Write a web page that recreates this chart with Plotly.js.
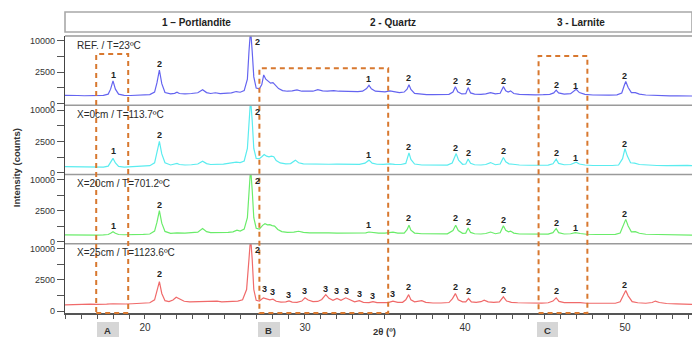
<!DOCTYPE html>
<html>
<head>
<meta charset="utf-8">
<script src="https://cdn.plot.ly/plotly-3.0.1.min.js"></script>
<style>html,body{margin:0;padding:0;background:#fff;}#chart{width:692px;height:337px;}</style>
</head>
<body>
<div id="chart"></div>
<script>
// ---- data: [2theta (deg), intensity (counts)] ----
const panelNames = ["REF. / T=23ºC", "X=0cm / T=113.7ºC", "X=20cm / T=701.2ºC", "X=25cm / T=1123.6ºC"];
const phaseNames = ["1 – Portlandite", "2 - Quartz", "3 - Larnite"];
const zoneNames = ["A", "B", "C"];
const zoneX0 = [16.95, 27.15, 44.6];
const zoneX1 = [18.95, 35.2, 47.65];
const zoneTop = [0.935, 0.884, 0.928]; // top of zone boxes (fraction of plot height)

const refPoints = [[15.0,165],[15.4,150],[15.8,160],[16.2,150],[16.6,158],[17.0,155],[17.4,165],[17.7,220],[17.85,520],[18.0,1300],[18.15,520],[18.35,220],[18.7,165],[19.1,160],[19.5,170],[19.9,180],[20.3,200],[20.6,330],[20.75,1100],[20.9,2860],[21.05,1000],[21.25,300],[21.6,230],[21.85,260],[22.0,320],[22.15,250],[22.5,230],[22.9,250],[23.3,290],[23.6,480],[23.85,300],[24.1,250],[24.4,290],[24.7,240],[25.1,260],[25.4,280],[25.7,360],[25.95,320],[26.2,420],[26.4,1500],[26.5,7000],[26.6,14000],[26.7,7000],[26.8,1800],[26.95,600],[27.15,540],[27.3,900],[27.42,2080],[27.55,1500],[27.7,1300],[27.85,1050],[28.0,1100],[28.15,800],[28.35,560],[28.6,420],[28.9,380],[29.2,400],[29.5,470],[29.8,380],[30.1,360],[30.5,380],[30.8,480],[31.1,400],[31.4,390],[31.8,420],[32.1,380],[32.5,360],[32.9,380],[33.3,350],[33.6,380],[33.85,560],[34.0,840],[34.15,550],[34.4,380],[34.7,350],[35.0,340],[35.3,400],[35.6,330],[35.9,300],[36.2,330],[36.38,520],[36.5,900],[36.62,500],[36.85,260],[37.2,220],[37.6,200],[38.0,195],[38.5,200],[39.0,210],[39.25,330],[39.4,720],[39.55,350],[39.8,230],[40.05,240],[40.2,640],[40.35,280],[40.6,220],[41.0,210],[41.3,230],[41.6,300],[41.9,230],[42.2,260],[42.4,720],[42.55,400],[42.7,330],[42.85,400],[43.05,250],[43.4,210],[43.9,190],[44.4,190],[44.9,195],[45.3,210],[45.55,280],[45.7,445],[45.85,280],[46.2,220],[46.6,240],[46.8,380],[46.95,515],[47.15,300],[47.5,210],[48.0,180],[48.5,170],[49.0,175],[49.5,185],[49.8,280],[49.95,800],[50.05,1240],[50.2,650],[50.4,300],[50.65,300],[50.9,220],[51.3,180],[51.8,160],[52.3,150],[52.8,145],[53.3,150],[53.8,140],[54.2,140]];

const x0Points = [[15.0,95],[15.4,90],[15.8,95],[16.2,85],[16.6,80],[17.0,75],[17.4,80],[17.7,110],[17.85,250],[18.0,520],[18.15,240],[18.35,100],[18.7,80],[19.1,85],[19.5,95],[19.9,105],[20.3,125],[20.6,250],[20.75,1000],[20.9,2500],[21.05,900],[21.25,250],[21.6,150],[21.85,180],[22.0,220],[22.15,170],[22.5,150],[22.9,160],[23.3,190],[23.6,340],[23.85,210],[24.1,170],[24.5,175],[24.9,190],[25.2,220],[25.5,250],[25.7,280],[25.95,260],[26.2,350],[26.4,1500],[26.5,7000],[26.6,14000],[26.7,7000],[26.8,1500],[26.95,520],[27.15,500],[27.3,650],[27.45,850],[27.6,700],[27.75,640],[27.9,700],[28.05,650],[28.2,380],[28.45,240],[28.8,200],[29.1,210],[29.4,400],[29.6,250],[29.9,200],[30.3,190],[30.7,200],[31.1,185],[31.5,180],[32.0,185],[32.5,175],[33.0,180],[33.4,175],[33.75,230],[34.0,400],[34.2,230],[34.5,180],[34.9,175],[35.3,200],[35.6,175],[36.0,170],[36.3,220],[36.4,550],[36.5,1000],[36.62,450],[36.85,190],[37.3,150],[37.8,140],[38.4,135],[38.9,145],[39.2,240],[39.35,600],[39.45,930],[39.6,400],[39.85,180],[40.05,190],[40.2,470],[40.35,220],[40.6,160],[41.0,150],[41.3,170],[41.6,260],[41.9,160],[42.2,190],[42.4,590],[42.55,300],[42.75,200],[43.0,180],[43.4,150],[44.0,140],[44.6,140],[45.2,145],[45.5,200],[45.7,470],[45.85,220],[46.2,160],[46.6,170],[46.8,240],[46.95,280],[47.15,190],[47.5,150],[48.0,130],[48.6,125],[49.2,130],[49.6,150],[49.85,500],[50.0,1470],[50.15,700],[50.35,250],[50.6,230],[50.9,170],[51.4,140],[52.0,130],[52.6,125],[53.2,130],[53.6,160],[53.9,135],[54.2,125]];

const x20Points = [[15.0,125],[15.4,120],[15.8,125],[16.2,120],[16.6,125],[17.0,120],[17.4,125],[17.7,140],[17.85,190],[18.0,265],[18.15,190],[18.35,140],[18.7,130],[19.1,130],[19.5,140],[19.9,145],[20.3,160],[20.6,300],[20.75,1000],[20.9,2500],[21.05,900],[21.25,280],[21.6,190],[22.0,210],[22.5,200],[22.9,210],[23.3,240],[23.6,460],[23.85,270],[24.1,220],[24.5,220],[24.9,210],[25.2,230],[25.5,260],[25.75,350],[25.95,300],[26.2,420],[26.4,1500],[26.5,7000],[26.6,14000],[26.7,7000],[26.8,1500],[26.95,480],[27.15,420],[27.35,700],[27.5,850],[27.65,750],[27.8,760],[27.95,680],[28.1,640],[28.3,400],[28.55,270],[28.9,230],[29.3,240],[29.6,290],[29.9,230],[30.3,210],[30.7,220],[31.1,200],[31.5,210],[32.0,200],[32.5,195],[33.0,200],[33.5,190],[33.8,210],[34.0,250],[34.25,215],[34.6,200],[35.0,195],[35.5,240],[35.8,200],[36.2,200],[36.38,380],[36.5,710],[36.62,350],[36.85,200],[37.3,170],[37.8,160],[38.4,155],[38.9,165],[39.25,330],[39.42,710],[39.58,330],[39.85,190],[40.05,200],[40.2,500],[40.35,230],[40.6,170],[41.0,160],[41.3,180],[41.6,250],[41.9,170],[42.2,210],[42.4,660],[42.55,350],[42.72,260],[42.85,300],[43.05,200],[43.4,160],[44.0,150],[44.6,150],[45.2,155],[45.5,220],[45.7,460],[45.85,220],[46.2,160],[46.6,170],[46.9,220],[47.2,180],[47.6,150],[48.2,140],[48.8,140],[49.4,145],[49.7,200],[49.9,700],[50.05,1300],[50.2,650],[50.4,260],[50.65,270],[50.9,190],[51.3,150],[51.8,140],[52.4,130],[53.0,135],[53.6,125],[54.2,120]];

const x25Points = [[15.0,100],[15.4,110],[15.8,120],[16.2,115],[16.6,125],[17.0,120],[17.3,135],[17.6,125],[18.0,140],[18.4,130],[18.8,130],[19.2,140],[19.6,145],[20.0,155],[20.3,180],[20.6,330],[20.75,1000],[20.9,2230],[21.05,800],[21.25,280],[21.5,230],[21.75,320],[21.95,500],[22.15,380],[22.45,250],[22.8,220],[23.2,230],[23.5,250],[23.8,230],[24.2,240],[24.5,260],[24.8,220],[25.2,240],[25.5,270],[25.8,260],[26.1,330],[26.35,1200],[26.5,7000],[26.6,14000],[26.7,7000],[26.8,1200],[26.95,300],[27.15,260],[27.4,455],[27.6,380],[27.8,330],[28.0,370],[28.2,250],[28.5,210],[28.8,220],[29.0,270],[29.2,210],[29.5,200],[29.8,260],[30.0,455],[30.2,320],[30.5,230],[30.8,240],[31.05,350],[31.3,700],[31.5,420],[31.75,300],[32.0,410],[32.25,300],[32.55,455],[32.8,320],[33.1,220],[33.4,280],[33.65,200],[34.0,190],[34.25,230],[34.5,190],[34.9,180],[35.2,190],[35.5,260],[35.8,200],[36.1,200],[36.3,330],[36.48,700],[36.62,330],[36.85,220],[37.1,240],[37.3,280],[37.55,200],[38.0,170],[38.5,170],[39.0,190],[39.22,400],[39.4,790],[39.58,330],[39.85,220],[40.05,220],[40.22,410],[40.4,220],[40.7,200],[41.0,230],[41.2,310],[41.45,220],[41.8,200],[42.15,220],[42.4,525],[42.6,260],[42.9,200],[43.3,180],[43.8,165],[44.3,160],[44.8,165],[45.2,180],[45.5,260],[45.7,455],[45.88,240],[46.2,190],[46.6,190],[47.0,210],[47.2,190],[47.6,160],[48.2,150],[48.8,155],[49.4,160],[49.7,220],[49.9,650],[50.05,1100],[50.2,600],[50.45,230],[50.8,180],[51.3,160],[51.7,190],[51.9,260],[52.15,190],[52.6,150],[53.2,135],[53.8,125],[54.2,120]];

// peak labels: [2theta, counts at label, phase number]
const refLabels = [[18.0,2080,"1"],[20.9,3940,"2"],[27.06,9720,"2"],[34.0,1470,"1"],[36.5,1640,"2"],[39.4,1240,"2"],[40.2,1200,"2"],[42.4,1270,"2"],[45.7,900,"2"],[46.9,780,"1"],[50.0,1980,"2"]];
const x0Labels = [[18.0,1160,"1"],[20.9,3600,"2"],[27.06,9600,"2"],[34.0,835,"1"],[36.5,1660,"2"],[39.4,1540,"2"],[40.2,990,"2"],[42.4,1160,"2"],[45.7,990,"2"],[46.9,560,"1"],[50.0,2120,"2"]];
const x20Labels = [[18.0,655,"1"],[20.9,3470,"2"],[27.06,9370,"2"],[34.0,710,"1"],[36.5,1440,"2"],[39.4,1440,"2"],[40.2,1010,"2"],[42.4,1180,"2"],[45.7,950,"2"],[46.9,505,"1"],[50.0,2010,"2"]];
const x25Labels = [[20.9,3520,"2"],[27.06,9660,"2"],[27.44,1290,"3"],[28.0,940,"3"],[29.0,645,"3"],[30.0,1000,"3"],[31.3,1210,"3"],[32.0,1000,"3"],[32.6,1000,"3"],[33.4,790,"3"],[34.25,595,"3"],[35.5,790,"3"],[36.5,1480,"2"],[39.4,1480,"2"],[40.2,1000,"2"],[42.4,1180,"2"],[45.7,1000,"2"],[50.0,1815,"2"]];

const yTickCounts = [0, 625, 2500, 5625, 10000];
const yTickText = ["0", "", "2500", "", "10000"];
const xTickVals = [15,16,17,18,19,20,21,22,23,24,25,26,27,28,29,30,31,32,33,34,35,36,37,38,39,40,41,42,43,44,45,46,47,48,49,50,51,52,53,54];

// ---- drawing ----
const FONT = "'Liberation Sans', Arial, sans-serif";
const seriesPoints = [refPoints, x0Points, x20Points, x25Points];
const seriesLabels = [refLabels, x0Labels, x20Labels, x25Labels];
const colors = ["#6464f0", "#5aecef", "#6aec6a", "#f06a6a"];
const yIds = ["y", "y2", "y3", "y4"];
const yKeys = ["yaxis", "yaxis2", "yaxis3", "yaxis4"];
const sq = v => Math.sqrt(v); // square-root intensity scale

const traces = seriesPoints.map((pts, i) => ({
  x: pts.map(p => p[0]),
  y: pts.map(p => sq(p[1])),
  xaxis: "x", yaxis: yIds[i],
  type: "scatter", mode: "lines",
  line: {color: colors[i], width: 1.2},
  hoverinfo: "skip", showlegend: false
}));

const layout = {
  width: 692, height: 337,
  margin: {l: 65, r: 0, t: 36, b: 24},
  paper_bgcolor: "#fff", plot_bgcolor: "#fff",
  font: {family: FONT, size: 10, color: "#333"},
  showlegend: false,
  xaxis: {
    domain: [0, 1], range: [15, 54.19], anchor: "y4",
    tickvals: xTickVals,
    ticktext: xTickVals.map(v => v % 10 === 0 ? String(v) : ""),
    ticks: "outside", ticklen: 4, tickcolor: "#555", tickwidth: 1,
    showline: true, linecolor: "#555", linewidth: 1.5,
    showgrid: false, zeroline: false,
    tickfont: {size: 10, color: "#333"}
  },
  shapes: [], annotations: []
};

for (let i = 0; i < 4; i++) {
  const top = 1 - i * 0.25, bot = top - 0.25;
  layout[yKeys[i]] = {
    domain: [bot, top], range: [-3, 108], anchor: "x",
    tickvals: yTickCounts.map(sq), ticktext: yTickText,
    ticks: "outside", ticklen: 7, tickcolor: "#555",
    showline: true, linecolor: "#444", linewidth: 1.2,
    showgrid: false, zeroline: false,
    tickfont: {size: 9, color: "#333"}
  };
  // separator / frame line
  layout.shapes.push({type: "line", xref: "paper", yref: "paper", x0: 0, x1: 1, y0: top, y1: top,
    line: {color: "#9a9a9a", width: 1.6}});
  // panel title
  layout.annotations.push({xref: "paper", yref: "paper", x: 0.016, y: top - 0.0325,
    xanchor: "left", yanchor: "middle", showarrow: false, text: panelNames[i],
    font: {size: 10, color: "#2a2a2a", family: FONT}});
  // peak labels
  seriesLabels[i].forEach(l => layout.annotations.push({
    xref: "x", yref: yIds[i], x: l[0], y: sq(l[1]), xanchor: "center", yanchor: "middle",
    showarrow: false, text: "<b>" + l[2] + "</b>", font: {size: 9, color: "#222", family: FONT}
  }));
}

// header box with phase legend
layout.shapes.push({type: "rect", xref: "paper", yref: "paper", x0: 0.0, x1: 1.0, y0: 1.0144, y1: 1.0866,
  line: {color: "#a8a8a8", width: 1.6}, fillcolor: "#fff"});
const phaseX = [0.2105, 0.523, 0.823];
phaseNames.forEach((t, i) => layout.annotations.push({xref: "paper", yref: "paper", x: phaseX[i], y: 1.0505,
  xanchor: "center", yanchor: "middle", showarrow: false, text: "<b>" + t + "</b>",
  font: {size: 10, color: "#222", family: FONT}}));

// dashed zones A, B, C
zoneNames.forEach((z, i) => {
  layout.shapes.push({type: "rect", xref: "x", yref: "paper", x0: zoneX0[i], x1: zoneX1[i], y0: 0.0, y1: zoneTop[i],
    line: {color: "#d8782f", width: 2, dash: "5px,4px"}, fillcolor: "rgba(0,0,0,0)", layer: "above"});
});
const boxX = [[0.051, 0.0861], [0.3078, 0.3429], [0.7528, 0.7863]];
zoneNames.forEach((z, i) => {
  layout.shapes.push({type: "rect", xref: "paper", yref: "paper", x0: boxX[i][0], x1: boxX[i][1], y0: -0.0325, y1: -0.1,
    line: {width: 0}, fillcolor: "#d6d6d6"});
  layout.annotations.push({xref: "paper", yref: "paper", x: (boxX[i][0] + boxX[i][1]) / 2, y: -0.064,
    xanchor: "center", yanchor: "middle", showarrow: false, text: "<b>" + z + "</b>",
    font: {size: 9.5, color: "#333", family: FONT}});
});

// axis titles
layout.annotations.push({xref: "paper", yref: "paper", x: 0.509, y: -0.065, xanchor: "center", yanchor: "middle",
  showarrow: false, text: "<b>2θ (º)</b>", font: {size: 9.5, color: "#333", family: FONT}});
layout.annotations.push({xref: "paper", yref: "paper", x: -0.078, y: 0.523, xanchor: "center", yanchor: "middle",
  showarrow: false, textangle: -90, text: "<b>Intensity (counts)</b>", font: {size: 9.5, color: "#333", family: FONT}});

Plotly.newPlot("chart", traces, layout, {staticPlot: true, displayModeBar: false});
</script>
</body>
</html>
